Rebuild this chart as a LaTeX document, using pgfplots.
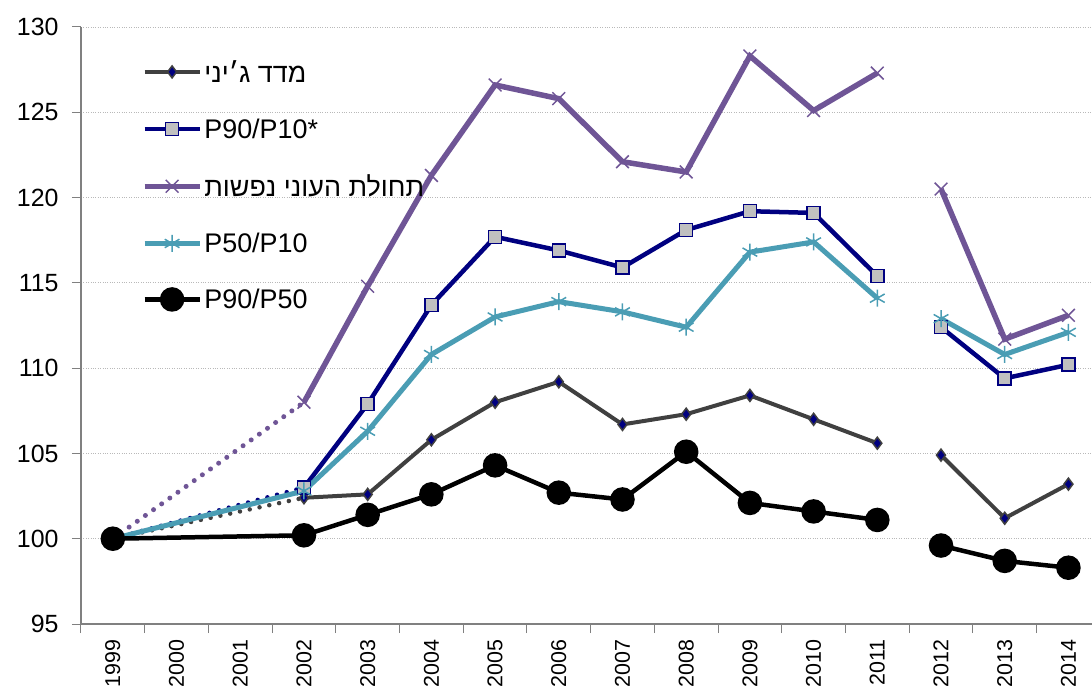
\documentclass[border=0pt]{standalone}
\usepackage{fontspec}
\setmainfont{Liberation Sans}
\newfontfamily\hebfont[Script=Hebrew]{Liberation Sans}
\TeXXeTstate=1
\usepackage{pgfplots}
\pgfplotsset{compat=1.18}
\definecolor{gini}{HTML}{404040}
\definecolor{navy}{HTML}{000080}
\definecolor{pov}{HTML}{6F5596}
\definecolor{teal2}{HTML}{4A9DB4}
\definecolor{sqfill}{HTML}{C0C0C0}
\definecolor{axgray}{HTML}{808080}
\begin{document}
\begin{tikzpicture}
\begin{axis}[
  scale only axis, width=1011bp, height=597bp,
  xmin=-0.5, xmax=15.37, ymin=95, ymax=130,
  axis x line*=bottom, axis y line*=left,
  axis line style={-, draw=axgray, line width=1.3bp},
  ytick={95,100,...,130},
  ymajorgrids, grid style={dotted, draw=gray!55, line width=0.8bp},
  xtick={0,...,15},
  xticklabels={1999,2000,2001,2002,2003,2004,2005,2006,2007,2008,2009,2010,2011,2012,2013,2014},
  major x tick style={draw=none},
  minor xtick={-0.5,0.5,...,15.5},
  tick align=outside, major tick length=9bp, minor tick length=9bp,
  every tick/.style={axgray, line width=1bp},
  x tick label style={rotate=90, anchor=east, xshift=-3bp, font=\fontsize{21.5}{25}\selectfont},
  y tick label style={xshift=-10bp, font=\fontsize{25}{30}\selectfont},
  /pgf/number format/assume math mode=true,
  legend style={at={(0.06,0.948)}, anchor=north west, draw=none, fill=none,
    font=\fontsize{27}{32}\selectfont, row sep=31bp, inner sep=0pt,
    nodes={inner sep=2bp}},
  legend cell align=left,
  legend image code/.code={\draw[mark repeat=2,mark phase=2] plot coordinates {(0bp,0bp) (27.5bp,0bp) (55bp,0bp)};},
]
% dotted 1999-2002 segments
\addplot[forget plot, draw=pov, line width=5bp, line cap=round, dash pattern=on 0bp off 10bp] coordinates {(0,100) (3,108.0)};
\addplot[forget plot, draw=navy, line width=4.5bp, line cap=round, dash pattern=on 0bp off 10bp] coordinates {(0,100) (3,103.0)};
\addplot[forget plot, draw=gini, line width=4.5bp, line cap=round, dash pattern=on 0bp off 10bp] coordinates {(0,100) (3,102.4)};

% Gini
\addplot[draw=gini, line width=4bp, mark=diamond*, mark size=6bp,
  mark options={fill=navy, draw=gini, line width=1.5bp}]
  coordinates {(3,102.4) (4,102.6) (5,105.8) (6,108.0) (7,109.2) (8,106.7) (9,107.3) (10,108.4) (11,107.0) (12,105.6)};
\addlegendentry{\hebfont\beginR מדד ג׳יני\endR}
% P90/P10
\addplot[draw=navy, line width=4.5bp, mark=square*, mark size=6.5bp,
  mark options={fill=sqfill, draw=navy, line width=1.5bp}]
  coordinates {(3,103.0) (4,107.9) (5,113.7) (6,117.7) (7,116.9) (8,115.9) (9,118.1) (10,119.2) (11,119.1) (12,115.4)};
\addlegendentry{P90/P10*}
% Poverty
\addplot[draw=pov, line width=5.5bp, mark=x, mark size=9bp,
  mark options={line width=1.5bp}]
  coordinates {(3,108.0) (4,114.8) (5,121.3) (6,126.6) (7,125.8) (8,122.1) (9,121.5) (10,128.3) (11,125.1) (12,127.3)};
\addlegendentry{\hebfont\beginR תחולת העוני נפשות\endR}
% P50/P10
\addplot[draw=teal2, line width=5bp, mark=asterisk, mark size=8.5bp,
  mark options={line width=1.5bp}]
  coordinates {(0,100) (3,102.8) (4,106.3) (5,110.8) (6,113.0) (7,113.9) (8,113.3) (9,112.4) (10,116.8) (11,117.4) (12,114.1)};
\addlegendentry{P50/P10}
% P90/P50
\addplot[draw=black, line width=4.5bp, mark=*, mark size=10bp,
  mark options={fill=black}]
  coordinates {(0,100) (3,100.2) (4,101.4) (5,102.6) (6,104.3) (7,102.7) (8,102.3) (9,105.1) (10,102.1) (11,101.6) (12,101.1)};
\addlegendentry{P90/P50}

% 2012-2014 continuations
\addplot[forget plot, draw=gini, line width=4bp, mark=diamond*, mark size=6bp,
  mark options={fill=navy, draw=gini, line width=1.5bp}]
  coordinates {(13,104.9) (14,101.2) (15,103.2)};
\addplot[forget plot, draw=navy, line width=4.5bp, mark=square*, mark size=6.5bp,
  mark options={fill=sqfill, draw=navy, line width=1.5bp}]
  coordinates {(13,112.4) (14,109.4) (15,110.2)};
\addplot[forget plot, draw=pov, line width=5.5bp, mark=x, mark size=9bp,
  mark options={line width=1.5bp}]
  coordinates {(13,120.5) (14,111.7) (15,113.1)};
\addplot[forget plot, draw=teal2, line width=5bp, mark=asterisk, mark size=8.5bp,
  mark options={line width=1.5bp}]
  coordinates {(13,112.9) (14,110.8) (15,112.1)};
\addplot[forget plot, draw=black, line width=4.5bp, mark=*, mark size=10bp,
  mark options={fill=black}]
  coordinates {(13,99.6) (14,98.7) (15,98.3)};
\end{axis}
\pgfresetboundingbox
\path[use as bounding box] (current axis.south west) ++(-81bp,-62bp) rectangle ++(1092bp,686bp);
\end{tikzpicture}
\end{document}
